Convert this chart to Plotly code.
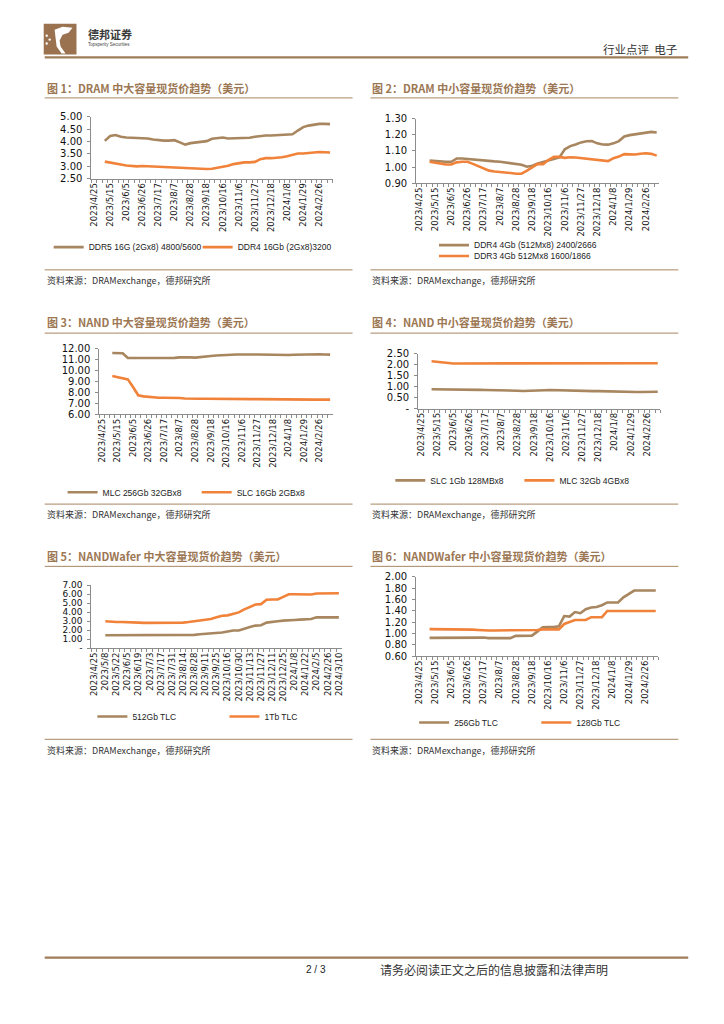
import plotly.graph_objects as go

W, H = 724, 1024

# ---------------- data ----------------
DATES = ["2023/4/25", "2023/5/1", "2023/5/8", "2023/5/15", "2023/5/22", "2023/5/29",
         "2023/6/5", "2023/6/12", "2023/6/19", "2023/6/26", "2023/7/3", "2023/7/10",
         "2023/7/17", "2023/7/24", "2023/7/31", "2023/8/7", "2023/8/14", "2023/8/21",
         "2023/8/28", "2023/9/4", "2023/9/11", "2023/9/18", "2023/9/25", "2023/10/9",
         "2023/10/16", "2023/10/23", "2023/10/30", "2023/11/6", "2023/11/13", "2023/11/20",
         "2023/11/27", "2023/12/4", "2023/12/11", "2023/12/18", "2023/12/25", "2024/1/1",
         "2024/1/8", "2024/1/15", "2024/1/22", "2024/1/29", "2024/2/5", "2024/2/19",
         "2024/2/26", "2024/3/4", "2024/3/10"]
DATA_DATES = DATES[2:]

DDR5_16G = [4.03, 4.23, 4.27, 4.20, 4.17, 4.16, 4.15, 4.15, 4.13, 4.09, 4.05, 4.04, 4.04,
            4.06, 3.97, 3.88, 3.94, 3.96, 3.98, 4.02, 4.12, 4.16, 4.17, 4.13, 4.13, 4.13,
            4.13, 4.16, 4.20, 4.24, 4.25, 4.25, 4.26, 4.29, 4.30, 4.30, 4.45, 4.59, 4.65,
            4.69, 4.72, 4.72, 4.71]
DDR4_16G = [3.19, 3.14, 3.10, 3.07, 3.03, 3.01, 3.00, 3.01, 3.00, 3.00, 2.98, 2.97, 2.96,
            2.96, 2.93, 2.92, 2.90, 2.89, 2.88, 2.89, 2.90, 2.94, 2.96, 3.02, 3.09, 3.14,
            3.16, 3.16, 3.18, 3.29, 3.33, 3.33, 3.34, 3.37, 3.41, 3.45, 3.52, 3.52, 3.54,
            3.57, 3.58, 3.57, 3.56]

DDR4_4G = [1.040, 1.037, 1.035, 1.033, 1.033, 1.053, 1.053, 1.050, 1.045, 1.040, 1.039,
           1.037, 1.035, 1.033, 1.029, 1.025, 1.020, 1.014, 1.002, 1.008, 1.022, 1.031,
           1.040, 1.049, 1.060, 1.110, 1.130, 1.140, 1.153, 1.160, 1.161, 1.147, 1.140,
           1.139, 1.147, 1.161, 1.190, 1.198, 1.204, 1.208, 1.214, 1.218, 1.214]
DDR3_4G = [1.033, 1.027, 1.020, 1.016, 1.016, 1.029, 1.033, 1.033, 1.020, 1.006, 0.994,
           0.978, 0.973, 0.971, 0.969, 0.963, 0.959, 0.959, 0.978, 0.998, 1.020, 1.018,
           1.045, 1.063, 1.063, 1.057, 1.061, 1.059, 1.055, 1.053, 1.049, 1.045, 1.041,
           1.037, 1.055, 1.065, 1.080, 1.078, 1.078, 1.082, 1.086, 1.082, 1.071]

MLC_256G = [11.60, 11.60, 11.58, 11.15, 11.15, 11.13, 11.12, 11.12, 11.12, 11.12, 11.13,
            11.14, 11.16, 11.20, 11.22, 11.20, 11.18, 11.25, 11.30, 11.33, 11.38, 11.42,
            11.43, 11.44, 11.46, 11.48, 11.48, 11.47, 11.46, 11.45, 11.43, 11.41, 11.40,
            11.41, 11.42, 11.44, 11.46, 11.48, 11.50, 11.50, 11.49, 11.47, 11.45]
SLC_16G = [9.50, 9.42, 9.32, 9.20, 8.50, 7.75, 7.65, 7.60, 7.55, 7.52, 7.52, 7.52, 7.53,
           7.50, 7.46, 7.43, 7.43, 7.43, 7.43, 7.42, 7.42, 7.42, 7.43, 7.42, 7.42, 7.41,
           7.41, 7.40, 7.40, 7.39, 7.38, 7.38, 7.38, 7.37, 7.37, 7.36, 7.36, 7.36, 7.36,
           7.35, 7.35, 7.35, 7.35]

SLC_1G = [0.88, 0.88, 0.87, 0.87, 0.87, 0.86, 0.86, 0.86, 0.85, 0.85, 0.84, 0.84, 0.83,
          0.83, 0.82, 0.82, 0.81, 0.80, 0.80, 0.81, 0.82, 0.83, 0.84, 0.83, 0.83, 0.82,
          0.81, 0.80, 0.80, 0.80, 0.79, 0.79, 0.78, 0.77, 0.77, 0.76, 0.76, 0.76, 0.75,
          0.75, 0.76, 0.76, 0.76]
MLC_32G = [2.15, 2.12, 2.08, 2.06, 2.05, 2.05, 2.05, 2.05, 2.05, 2.04, 2.04, 2.04, 2.04,
           2.04, 2.04, 2.04, 2.05, 2.05, 2.05, 2.05, 2.05, 2.05, 2.05, 2.05, 2.05, 2.05,
           2.05, 2.05, 2.05, 2.05, 2.05, 2.05, 2.05, 2.05, 2.05, 2.05, 2.05, 2.05, 2.05,
           2.05, 2.05, 2.06, 2.06]

TLC_512G = [1.43, 1.43, 1.43, 1.42, 1.42, 1.40, 1.40, 1.40, 1.40, 1.40, 1.40, 1.40, 1.40,
            1.40, 1.40, 1.43, 1.47, 1.54, 1.58, 1.58, 1.65, 1.73, 1.84, 1.95, 1.95, 2.17,
            2.35, 2.50, 2.54, 2.83, 2.94, 2.98, 3.05, 3.12, 3.12, 3.16, 3.16, 3.24, 3.42,
            3.42, 3.42, 3.42, 3.42]
TLC_1T = [2.98, 2.90, 2.90, 2.90, 2.90, 2.83, 2.83, 2.80, 2.80, 2.80, 2.80, 2.80, 2.80,
          2.80, 2.83, 2.90, 2.98, 3.09, 3.12, 3.24, 3.42, 3.60, 3.64, 3.79, 3.97, 4.30,
          4.56, 4.85, 4.89, 5.37, 5.40, 5.40, 5.70, 5.99, 5.99, 5.96, 5.96, 5.96, 6.07,
          6.07, 6.07, 6.07, 6.10]

TLC_256G = [0.925, 0.925, 0.925, 0.925, 0.935, 0.935, 0.935, 0.930, 0.930, 0.930, 0.930,
            0.920, 0.920, 0.920, 0.920, 0.920, 0.960, 0.965, 0.965, 0.965, 1.035, 1.110,
            1.115, 1.115, 1.130, 1.310, 1.300, 1.380, 1.360, 1.430, 1.460, 1.470, 1.500,
            1.550, 1.550, 1.550, 1.640, 1.700, 1.760, 1.760, 1.760, 1.760, 1.760]
TLC_128G = [1.080, 1.080, 1.080, 1.080, 1.080, 1.080, 1.080, 1.080, 1.070, 1.065, 1.055,
            1.055, 1.055, 1.055, 1.055, 1.060, 1.065, 1.065, 1.065, 1.065, 1.065, 1.075,
            1.075, 1.075, 1.075, 1.170, 1.200, 1.240, 1.240, 1.240, 1.290, 1.290, 1.290,
            1.400, 1.400, 1.400, 1.400, 1.400, 1.400, 1.400, 1.400, 1.400, 1.400]

TITLES = ["图 1：DRAM 中大容量现货价趋势（美元）", "图 2：DRAM 中小容量现货价趋势（美元）",
          "图 3：NAND 中大容量现货价趋势（美元）", "图 4：NAND 中小容量现货价趋势（美元）",
          "图 5：NANDWafer 中大容量现货价趋势（美元）", "图 6：NANDWafer 中小容量现货价趋势（美元）"]
SOURCE = "资料来源：DRAMexchange，德邦研究所"

Y_TICKS = [[2.5, 3.0, 3.5, 4.0, 4.5, 5.0],
           [0.9, 1.0, 1.1, 1.2, 1.3],
           [6, 7, 8, 9, 10, 11, 12],
           [0, 0.5, 1.0, 1.5, 2.0, 2.5],
           [0, 1, 2, 3, 4, 5, 6, 7],
           [0.6, 0.8, 1.0, 1.2, 1.4, 1.6, 1.8, 2.0]]

BROWN = "#A8865F"
ORANGE = "#F0823A"
TITLE_C = "#9C7753"
RULE_C = "#A88562"
AXIS_C = "#8C8C8C"
CJK = "Noto Sans CJK SC"
LAT = "Liberation Sans, Arial, sans-serif"
TICKF = "DejaVu Sans, sans-serif"

SERIES = [
    [("DDR5 16G (2Gx8) 4800/5600", DDR5_16G, BROWN), ("DDR4 16Gb (2Gx8)3200", DDR4_16G, ORANGE)],
    [("DDR4 4Gb (512Mx8) 2400/2666", DDR4_4G, BROWN), ("DDR3 4Gb 512Mx8 1600/1866", DDR3_4G, ORANGE)],
    [("MLC 256Gb 32GBx8", MLC_256G, BROWN), ("SLC 16Gb 2GBx8", SLC_16G, ORANGE)],
    [("SLC 1Gb 128MBx8", SLC_1G, BROWN), ("MLC 32Gb 4GBx8", MLC_32G, ORANGE)],
    [("512Gb TLC", TLC_512G, BROWN), ("1Tb TLC", TLC_1T, ORANGE)],
    [("256Gb TLC", TLC_256G, BROWN), ("128Gb TLC", TLC_128G, ORANGE)],
]
LABEL_STEP = [3, 3, 3, 3, 2, 3]

# ---------------- layout (pixels) ----------------
PLOT_X = [(89, 332), (416, 661), (97, 332), (418, 662), (89, 341), (416, 660)]
PLOT_Y = [(112.3, 174.7), (114, 179.3), (346.7, 413.3), (351.7, 407.3), (586, 649.7), (577.7, 658)]
YFONT = [10, 10, 10, 10, 9, 10]
COL_X = [(42, 352), (370, 680), (42, 352), (370, 680), (42, 352), (370, 680)]
TITLE_Y = [83, 83, 320, 320, 557, 557]
RULE1_Y = [93, 93, 331, 331, 567, 567]
RULE2_Y = [267, 267, 504, 504, 742, 742]
SRC_Y = [278, 278, 515, 515, 753, 753]
# legend text start (x) and row centre (y)
LEG_POS = [[(91, 244), (241, 244)], [(479, 242), (479, 253)],
           [(105, 492), (240, 492)], [(435, 480), (565, 480)],
           [(135, 719), (268, 719)], [(459, 725), (582, 725)]]
LEG_TEXT_OFFSET = 45


def px(x):
    return x / W


def py(y):
    return 1 - y / H


fig = go.Figure()
shapes = []
annotations = []
legends = {}
leg_n = 0

for k in range(6):
    ax = "" if k == 0 else str(k + 1)
    step = LABEL_STEP[k]
    ticktext = [d if i % step == 0 else "" for i, d in enumerate(DATES)]
    for j, (name, vals, col) in enumerate(SERIES[k]):
        leg_n += 1
        lid = "legend" if leg_n == 1 else f"legend{leg_n}"
        fig.add_trace(go.Scatter(x=DATA_DATES, y=vals, name=name, mode="lines",
                                 line=dict(color=col, width=2.6),
                                 xaxis="x" + ax, yaxis="y" + ax, legend=lid,
                                 hoverinfo="skip"))
        lx, ly = LEG_POS[k][j]
        legends[lid] = dict(x=px(lx - LEG_TEXT_OFFSET), y=py(ly), xanchor="left",
                            yanchor="middle", orientation="h", bgcolor="rgba(0,0,0,0)",
                            borderwidth=0, itemwidth=30,
                            font=dict(family=LAT, size=8.5, color="#222"))
    yt = Y_TICKS[k]
    ytext = ["-" if v == 0 else f"{v:.2f}" for v in yt]
    fig.layout["xaxis" + ax] = dict(
        domain=[px(PLOT_X[k][0]), px(PLOT_X[k][1])], anchor="y" + ax, type="category",
        categoryorder="array", categoryarray=DATES,
        range=[-0.5, len(DATES) - 0.5], tickmode="array", tickvals=DATES, ticktext=ticktext,
        tickangle=-90, tickson="boundaries", ticks="outside", ticklen=3, tickcolor=AXIS_C,
        showline=True, linecolor=AXIS_C, linewidth=1, showgrid=False, zeroline=False,
        tickfont=dict(family=TICKF, size=8.5, color="#111"), fixedrange=True)
    fig.layout["yaxis" + ax] = dict(
        domain=[py(PLOT_Y[k][1]), py(PLOT_Y[k][0])], anchor="x" + ax,
        range=[yt[0], yt[-1]], tickmode="array", tickvals=yt, ticktext=ytext,
        ticks="outside", ticklen=3, tickcolor=AXIS_C, showline=True, linecolor=AXIS_C,
        linewidth=1, showgrid=False, zeroline=False, ticklabelstandoff=3,
        tickfont=dict(family=TICKF, size=YFONT[k], color="#111"), fixedrange=True)
    x0, x1 = COL_X[k]
    annotations.append(dict(text="<b>" + TITLES[k] + "</b>", x=px(x0), y=py(TITLE_Y[k]),
                            xref="paper", yref="paper", showarrow=False, xanchor="left",
                            yanchor="middle", font=dict(family=CJK, size=11, color=TITLE_C)))
    annotations.append(dict(text=SOURCE, x=px(x0), y=py(SRC_Y[k]), xref="paper", yref="paper",
                            showarrow=False, xanchor="left", yanchor="middle",
                            font=dict(family=CJK, size=9, color="#333")))
    for ry in (RULE1_Y[k], RULE2_Y[k]):
        shapes.append(dict(type="line", xref="paper", yref="paper", x0=px(x0), x1=px(x1),
                           y0=py(ry), y1=py(ry), line=dict(color=RULE_C, width=1)))

# header / footer
shapes.append(dict(type="line", xref="paper", yref="paper", x0=px(42), x1=px(690),
                   y0=py(52), y1=py(52), line=dict(color="#A07C58", width=2.2)))
shapes.append(dict(type="line", xref="paper", yref="paper", x0=px(42), x1=px(690),
                   y0=py(963), y1=py(963), line=dict(color="#A07C58", width=2.2)))
shapes.append(dict(type="rect", xref="paper", yref="paper", x0=px(41), x1=px(74),
                   y0=py(49), y1=py(18), line=dict(width=0), fillcolor="#9A7250"))


def path_px(points):
    return "M " + " L ".join(f"{px(a):.5f},{py(b):.5f}" for a, b in points) + " Z"


shapes.append(dict(type="path", xref="paper", yref="paper",
                   path=path_px([(52, 24), (60, 21), (70, 22), (66, 27), (60, 29), (57, 35),
                                 (58, 41), (63, 48), (59, 48), (54, 41), (53, 33)]),
                   line=dict(width=0), fillcolor="white"))
for (cx, cy) in [(44, 30), (47, 34), (44, 38)]:
    shapes.append(dict(type="circle", xref="paper", yref="paper", x0=px(cx - 1.2),
                       x1=px(cx + 1.2), y0=py(cy + 1.2), y1=py(cy - 1.2),
                       line=dict(width=0), fillcolor="white"))

annotations.append(dict(text="<b>德邦证券</b>", x=px(84), y=py(28), xref="paper", yref="paper",
                        showarrow=False, xanchor="left", yanchor="middle",
                        font=dict(family=CJK, size=11, color="#3a3a3a")))
annotations.append(dict(text="Topsperity Securities", x=px(84), y=py(39), xref="paper",
                        yref="paper", showarrow=False, xanchor="left", yanchor="middle",
                        font=dict(family=LAT, size=4.5, color="#444")))
annotations.append(dict(text="行业点评  电子", x=px(681), y=py(44), xref="paper", yref="paper",
                        showarrow=False, xanchor="right", yanchor="middle",
                        font=dict(family=CJK, size=11.5, color="#333")))
annotations.append(dict(text="2 / 3", x=px(315), y=py(975), xref="paper", yref="paper",
                        showarrow=False, xanchor="center", yanchor="middle",
                        font=dict(family=LAT, size=10, color="#222")))
annotations.append(dict(text="请务必阅读正文之后的信息披露和法律声明", x=px(378), y=py(975),
                        xref="paper", yref="paper", showarrow=False, xanchor="left",
                        yanchor="middle", font=dict(family=CJK, size=12, color="#333")))

fig.update_layout(width=W, height=H, margin=dict(l=0, r=0, t=0, b=0),
                  paper_bgcolor="white", plot_bgcolor="white", showlegend=True,
                  shapes=shapes, annotations=annotations, **legends)

fig.write_html("out.html", config={"displayModeBar": False},
               post_script="document.body.style.margin='0';document.body.style.padding='0';"
                           "document.body.style.overflow='hidden';")
